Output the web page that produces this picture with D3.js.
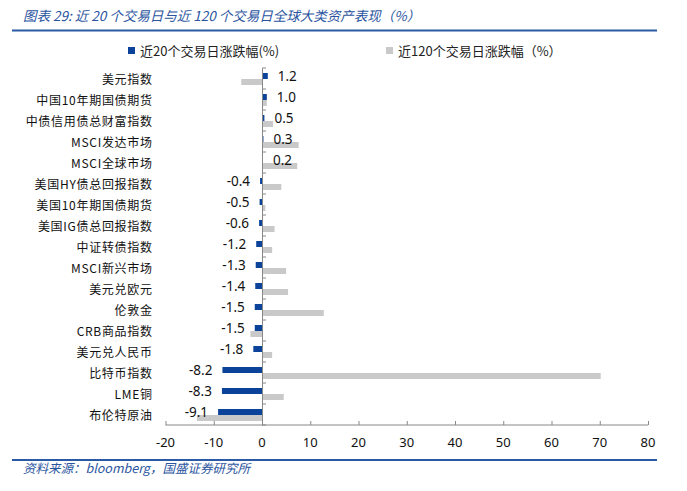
<!DOCTYPE html>
<html>
<head>
<meta charset="utf-8">
<script src="https://cdn.jsdelivr.net/npm/d3@7"></script>
<style>
  body { margin: 0; background: #fff; }
  svg { display: block; }
</style>
</head>
<body>
<svg id="chart" width="687" height="491"></svg>
<script>
// categories, top to bottom
var categories = ["美元指数", "中国10年期国债期货", "中债信用债总财富指数", "MSCI发达市场", "MSCI全球市场",
    "美国HY债总回报指数", "美国10年期国债期货", "美国IG债总回报指数", "中证转债指数", "MSCI新兴市场",
    "美元兑欧元", "伦敦金", "CRB商品指数", "美元兑人民币", "比特币指数", "LME铜", "布伦特原油"];

// 近20个交易日涨跌幅(%)
var chg20 = [1.2, 1.0, 0.5, 0.3, 0.2, -0.4, -0.5, -0.6, -1.2, -1.3, -1.4, -1.5, -1.5, -1.8, -8.2, -8.3, -9.1];

// 近120个交易日涨跌幅(%)
var chg120 = [-4.3, 1.0, 2.3, 7.6, 7.3, 4.0, 0.7, 2.6, 2.1, 5.0, 5.4, 12.8, -2.4, 2.1, 70.2, 4.5, -13.5];

var xTicks = [-20, -10, 0, 10, 20, 30, 40, 50, 60, 70, 80];

var titleText = "图表 29: 近 20 个交易日与近 120 个交易日全球大类资产表现（%）";
var sourceText = "资料来源：bloomberg，国盛证券研究所";
var legendNames = ["近20个交易日涨跌幅(%)", "近120个交易日涨跌幅（%）"];

var blue = "#0b439b", grey = "#c9c9c9", navy = "#2a5aa6";
var cjk = "'Noto Sans CJK SC', 'Noto Sans', sans-serif";

var svg = d3.select("#chart");

// header / footer
svg.append("text")
    .attr("x", 23).attr("y", 21)
    .attr("font-family", cjk).attr("font-size", 13.5)
    .attr("font-style", "italic").attr("fill", "#2a54a0")
    .text(titleText);
svg.append("line")
    .attr("x1", 12).attr("x2", 657).attr("y1", 30.5).attr("y2", 30.5)
    .attr("stroke", navy).attr("stroke-width", 2);
svg.append("line")
    .attr("x1", 12).attr("x2", 657).attr("y1", 460).attr("y2", 460)
    .attr("stroke", navy).attr("stroke-width", 2);
svg.append("text")
    .attr("x", 23).attr("y", 473)
    .attr("font-family", cjk).attr("font-size", 12.5)
    .attr("font-style", "italic").attr("fill", "#2a54a0")
    .text(sourceText);

// scales
var x = d3.scaleLinear().domain([-20, 80]).range([165.5, 648]);
var y = d3.scaleBand().domain(categories).range([68, 425]);

// legend
var legend = svg.append("g").attr("font-family", cjk).attr("font-size", 13);
[[128, blue], [386, grey]].forEach(function(l, i) {
    legend.append("rect")
        .attr("x", l[0]).attr("y", 47).attr("width", 7).attr("height", 7)
        .attr("fill", l[1]);
    legend.append("text")
        .attr("x", l[0] + 12).attr("y", 55.5)
        .attr("fill", "#222")
        .text(legendNames[i]);
});

var barH = 6;

// 120-day bars (below)
svg.append("g").selectAll("rect")
    .data(chg120)
    .enter()
    .append("rect")
    .attr("x", function(d) { return x(Math.min(0, d)); })
    .attr("width", function(d) { return Math.abs(x(d) - x(0)); })
    .attr("y", function(d, i) { return y(categories[i]) + y.bandwidth() / 2 + 0.5; })
    .attr("height", barH)
    .attr("fill", grey);

// 20-day bars (above)
svg.append("g").selectAll("rect")
    .data(chg20)
    .enter()
    .append("rect")
    .attr("x", function(d) { return x(Math.min(0, d)); })
    .attr("width", function(d) { return Math.abs(x(d) - x(0)); })
    .attr("y", function(d, i) { return y(categories[i]) + y.bandwidth() / 2 - barH + 0.5; })
    .attr("height", barH)
    .attr("fill", blue);

// value labels for 20-day series
svg.append("g").selectAll("text")
    .data(chg20)
    .enter()
    .append("text")
    .attr("x", function(d) { return d >= 0 ? x(d) + 10 : x(d) - 10; })
    .attr("y", function(d, i) { return y(categories[i]) + y.bandwidth() / 2 - 2.5; })
    .attr("dy", "0.35em")
    .attr("text-anchor", function(d) { return d >= 0 ? "start" : "end"; })
    .attr("font-family", "'Noto Sans', sans-serif").attr("font-size", 13.5)
    .attr("fill", "#111")
    .text(function(d) { return d.toFixed(1); });

// category axis along the zero line
var yAxis = d3.axisRight(y).tickSize(0).tickFormat("");
var yg = svg.append("g").attr("transform", "translate(" + x(0) + ",0)").call(yAxis);
yg.select(".domain").attr("stroke", "#888");
yg.selectAll(".sep")
    .data(d3.range(categories.length + 1))
    .enter()
    .append("line")
    .attr("x1", 0).attr("x2", 4)
    .attr("y1", function(i) { return 68 + i * y.step(); })
    .attr("y2", function(i) { return 68 + i * y.step(); })
    .attr("stroke", "#888");

svg.append("g").selectAll("text")
    .data(categories)
    .enter()
    .append("text")
    .attr("x", 152.7)
    .attr("y", function(d) { return y(d) + y.bandwidth() / 2 + 1; })
    .attr("dy", "0.35em")
    .attr("text-anchor", "end")
    .attr("font-family", cjk).attr("font-size", 12)
    .attr("letter-spacing", 0.7)
    .attr("fill", "#111")
    .text(function(d) { return d; });

// value axis
var xAxis = d3.axisTop(x).tickValues(xTicks).tickSize(4).tickFormat("");
var xg = svg.append("g").attr("transform", "translate(0,425)").call(xAxis);
xg.select(".domain").attr("stroke", "#888").attr("d", "M" + x(-20) + ",0H" + x(80));
xg.selectAll(".tick line").attr("stroke", "#888");

svg.append("g").selectAll("text")
    .data(xTicks)
    .enter()
    .append("text")
    .attr("x", function(d) { return x(d); })
    .attr("y", 442)
    .attr("dy", "0.35em")
    .attr("text-anchor", "middle")
    .attr("font-family", "'Noto Sans', sans-serif").attr("font-size", 13)
    .attr("fill", "#111")
    .text(function(d) { return d; });
</script>
</body>
</html>
